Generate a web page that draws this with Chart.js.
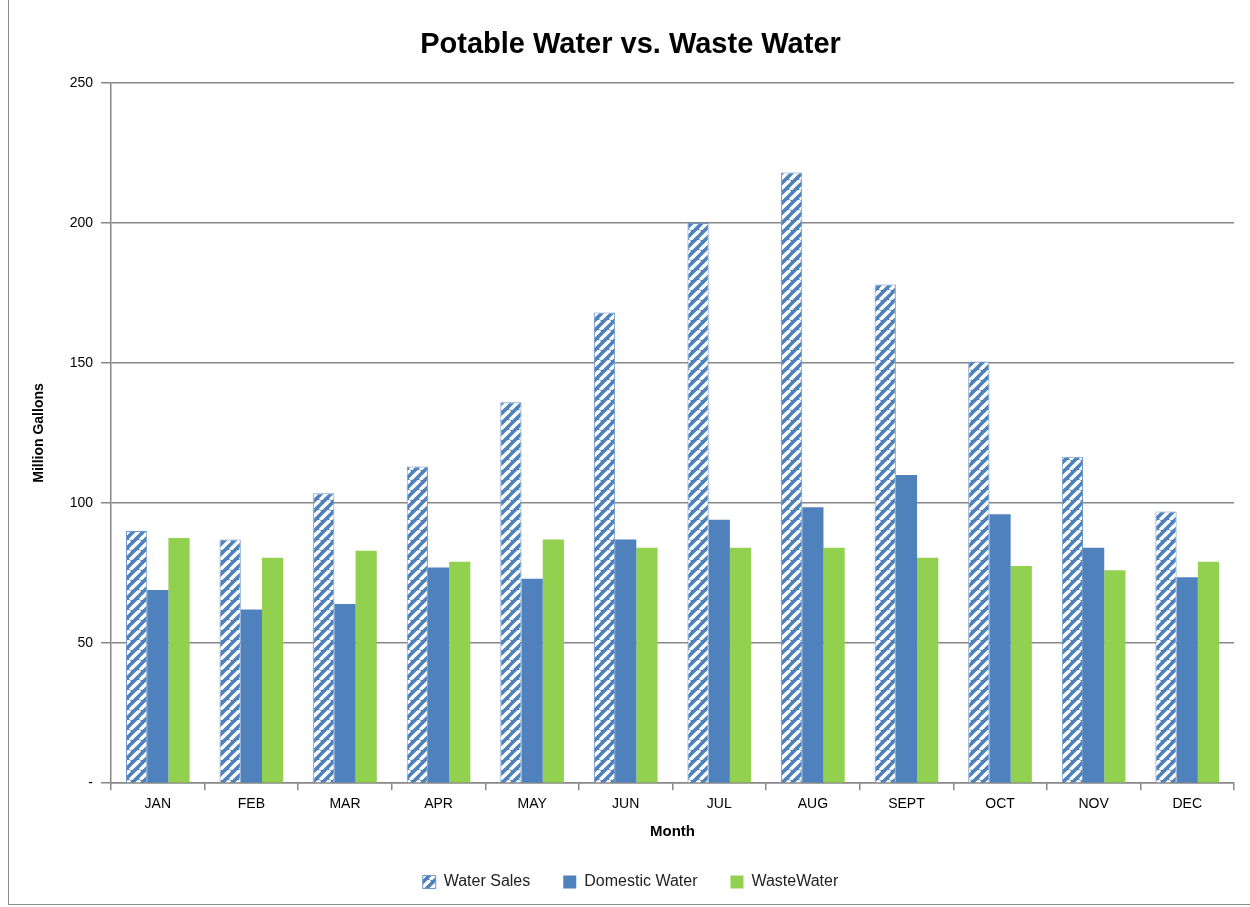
<!DOCTYPE html>
<html>
<head>
<meta charset="utf-8">
<script src="https://cdn.jsdelivr.net/npm/chart.js@4.4.1/dist/chart.umd.min.js"></script>
<style>
  html, body { margin: 0; padding: 0; background: #fff; }
  #wrap { position: relative; width: 1250px; height: 907px; }
  #frame { position: absolute; left: 8px; top: -1px; width: 1250px; height: 906px; border: 1px solid #8c8c8c; box-sizing: border-box; pointer-events: none; }
</style>
</head>
<body>
<div id="wrap">
  <canvas id="chart" width="1250" height="907"></canvas>
  <div id="frame"></div>
</div>
<script>
// ---- data ----
const months = ['JAN', 'FEB', 'MAR', 'APR', 'MAY', 'JUN', 'JUL', 'AUG', 'SEPT', 'OCT', 'NOV', 'DEC'];
const waterSales = [90, 87, 103.5, 113, 136, 168, 200, 218, 178, 150.5, 116.5, 97];
const domesticWater = [69, 62, 64, 77, 73, 87, 94, 98.5, 110, 96, 84, 73.5];
const wasteWater = [87.5, 80.5, 83, 79, 87, 84, 84, 84, 80.5, 77.5, 76, 79];
const yTicks = [0, 50, 100, 150, 200, 250];

const blue = '#4f81bd', green = '#92d050', grid = '#878787';
const FONT = "'Liberation Sans', Arial, sans-serif";

// diagonal white stripes on blue
function stripePattern() {
  const s = 10;
  const c = document.createElement('canvas');
  c.width = s; c.height = s;
  const g = c.getContext('2d');
  g.fillStyle = blue;
  g.fillRect(0, 0, s, s);
  g.strokeStyle = '#ffffff';
  g.lineWidth = 3.4;
  g.beginPath();
  for (let k = -1; k <= 1; k++) {
    g.moveTo(k * s, s);
    g.lineTo(k * s + s, 0);
  }
  g.stroke();
  return document.getElementById('chart').getContext('2d').createPattern(c, 'repeat');
}

const ctx = document.getElementById('chart').getContext('2d');

new Chart(ctx, {
  type: 'bar',
  data: {
    labels: months,
    datasets: [
      { label: 'Water Sales', data: waterSales, backgroundColor: stripePattern(), borderColor: '#6f97c9', borderWidth: 1 },
      { label: 'Domestic Water', data: domesticWater, backgroundColor: blue },
      { label: 'WasteWater', data: wasteWater, backgroundColor: green }
    ]
  },
  options: {
    responsive: false,
    animation: false,
    layout: { padding: { top: 4, right: 16, left: 27, bottom: 7 } },
    datasets: { bar: { categoryPercentage: 0.68, barPercentage: 1 } },
    plugins: {
      title: {
        display: true, text: 'Potable Water vs. Waste Water', color: '#000',
        font: { family: FONT, size: 29, weight: 'bold' },
        padding: { top: 24, bottom: 20 }
      },
      legend: {
        position: 'bottom',
        labels: { color: '#222', font: { family: FONT, size: 16 }, boxWidth: 13, boxHeight: 13, padding: 33 }
      },
      tooltip: { enabled: false }
    },
    scales: {
      x: {
        grid: { display: true, drawOnChartArea: false, color: grid, lineWidth: 1.5, tickLength: 7, offset: true },
        border: { color: grid, width: 1.5 },
        ticks: { color: '#000', font: { family: FONT, size: 14 }, padding: 6 },
        title: { display: true, text: 'Month', color: '#000', font: { family: FONT, size: 15, weight: 'bold' }, padding: { top: 4, bottom: 0 } }
      },
      y: {
        min: 0, max: 250,
        afterBuildTicks: ax => { ax.ticks = yTicks.map(v => ({ value: v })); },
        grid: { color: grid, lineWidth: 1.5, tickLength: 10 },
        border: { color: grid, width: 1.5 },
        ticks: { color: '#000', font: { family: FONT, size: 14 }, padding: 8,
          callback: v => v === 0 ? '-' : v },
        title: { display: true, text: 'Million Gallons', color: '#000', font: { family: FONT, size: 14, weight: 'bold' }, padding: { bottom: 22 } },
        afterFit: ax => { ax.width = 84; }
      }
    }
  }
});
</script>
</body>
</html>
